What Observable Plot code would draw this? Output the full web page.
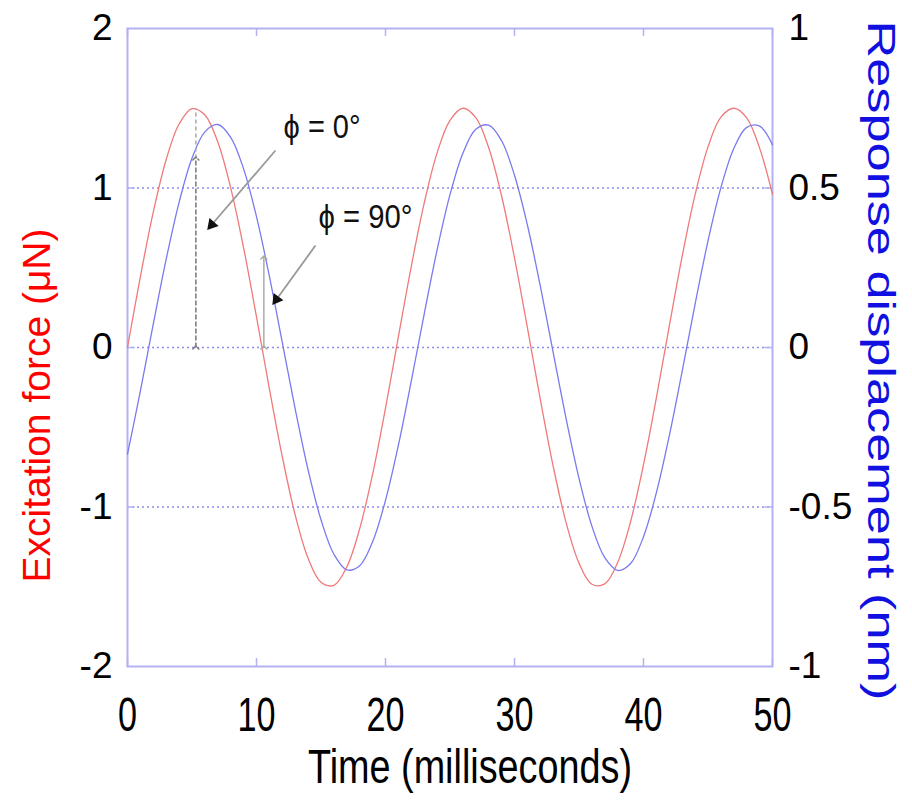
<!DOCTYPE html>
<html>
<head>
<meta charset="utf-8">
<script src="https://cdn.jsdelivr.net/npm/d3@7"></script>
<script src="https://cdn.jsdelivr.net/npm/@observablehq/plot@0.6"></script>
<style>
  html, body { margin: 0; padding: 0; background: #fff; }
</style>
</head>
<body>
<div id="chart"></div>
<script>
// ---- data ----
const timeMs = [0,1,2,3,4,5,6,7,8,9,10,11,12,13,14,15,16,17,18,19,20,21,22,23,24,25,26,27,28,29,30,31,32,33,34,35,36,37,38,39,40,41,42,43,44,45,46,47,48,49,50];
// Excitation force (μN), left axis
const force = [0,0.445,0.850,1.179,1.401,1.497,1.458,1.288,1.001,0.625,0.192,-0.259,-0.685,-1.050,-1.321,-1.472,-1.491,-1.376,-1.136,-0.794,-0.380,0.068,0.509,0.905,1.220,1.424,1.500,1.441,1.252,0.950,0.562,0.124,-0.325,-0.745,-1.098,-1.352,-1.484,-1.482,-1.347,-1.091,-0.735,-0.314,0.135,0.573,0.958,1.258,1.444,1.500,1.440,1.250,0.960];
// Response displacement (nm), right axis
const displacement = [-0.334,-0.136,0.074,0.277,0.455,0.593,0.676,0.699,0.659,0.560,0.410,0.223,0.016,-0.193,-0.384,-0.540,-0.648,-0.697,-0.684,-0.609,-0.479,-0.306,-0.105,0.105,0.306,0.479,0.609,0.684,0.697,0.648,0.540,0.384,0.193,-0.016,-0.223,-0.410,-0.560,-0.659,-0.699,-0.677,-0.593,-0.455,-0.277,-0.074,0.136,0.334,0.501,0.624,0.690,0.694,0.635];

const xTicks = [0,10,20,30,40,50];
const leftTicks = [-2,-1,0,1,2];
const rightTicks = [-1,-0.5,0,0.5,1];
const gridTicks = [-1,0,1];

const xTitle = "Time (milliseconds)";
const leftTitle = "Excitation force (\u03BCN)";
const rightTitle = "Response displacement (nm)";

// annotations (data units: ms, μN)
const phaseLabels = ["\u03D5 = 0\u00B0", "\u03D5 = 90\u00B0"];
const labelT = [12.1, 14.8];
const labelV = [1.38, 0.815];
const pointerFromT = [11.47, 14.57];
const pointerFromV = [1.235, 0.639];
const pointerToT = [6.28, 11.32];
const pointerToV = [0.746, 0.276];
const spanT = [5.3, 10.57];
const spanTopV = [1.185, 0.564];
const peakT = [5.3];
const peakV = [1.5];

// ---- layout ----
const W = 912, H = 804;
const mL = 127, mR = 140, mT = 28, mB = 138;
const pxPerT = (W - mL - mR) / 50;
const pxPerV = (H - mT - mB) / 4;

const rows = timeMs.map((t, i) => ({t, f: force[i], d: displacement[i]}));
const pointers = pointerFromT.map((t, i) => {
  const dxp = (pointerToT[i] - t) * pxPerT;
  const dyp = -(pointerToV[i] - pointerFromV[i]) * pxPerV;
  const len = Math.hypot(dxp, dyp);
  const ux = dxp / len, uy = dyp / len;
  return {
    x1: t, y1: pointerFromV[i], x2: pointerToT[i], y2: pointerToV[i],
    hx: pointerToT[i] - ux * 5 / pxPerT, hy: pointerToV[i] + uy * 5 / pxPerV,
    rot: Math.atan2(ux, -uy) * 180 / Math.PI
  };
});
const spans = spanT.map((t, i) => ({t, top: spanTopV[i]}));
const labels = phaseLabels.map((s, i) => ({s, t: labelT[i], v: labelV[i]}));

const frameColor = "#b2b2f2";

const plot = Plot.plot({
  width: W, height: H,
  marginLeft: mL, marginRight: mR, marginTop: mT, marginBottom: mB,
  x: {domain: [0, 50]},
  y: {domain: [-2, 2]},
  style: {fontFamily: "'Liberation Sans', Arial, sans-serif", background: "#fff", color: "#000"},
  marks: [
    Plot.gridY(gridTicks, {stroke: "#8c8cf0", strokeOpacity: 1, strokeWidth: 1.5, strokeDasharray: "2,3"}),
    Plot.frame({stroke: frameColor, strokeWidth: 2}),
    Plot.ruleX(xTicks, {y1: -2, y2: -1.95, stroke: frameColor, strokeWidth: 1.5}),
    Plot.ruleX(xTicks, {y1: 2, y2: 1.95, stroke: frameColor, strokeWidth: 1.5}),
    Plot.ruleY(gridTicks, {x1: 0, x2: 0.6, stroke: frameColor, strokeWidth: 1.5}),
    Plot.ruleY(gridTicks, {x1: 50, x2: 49.4, stroke: frameColor, strokeWidth: 1.5}),
    Plot.axisX(xTicks, {tickSize: 0, tickPadding: 30, fontSize: 48, label: null, tickFormat: d => String(d)}),
    Plot.axisY(leftTicks, {anchor: "left", tickSize: 0, tickPadding: 15, fontSize: 37, label: null, tickFormat: d => String(d)}),
    Plot.axisY(rightTicks.map(v => v * 2), {anchor: "right", tickSize: 0, tickPadding: 16, fontSize: 37, label: null, tickFormat: d => String(d / 2)}),
    Plot.line(rows, {x: "t", y: "f", stroke: "#ef7a7a", strokeWidth: 1.3, curve: "catmull-rom"}),
    Plot.line(rows, {x: "t", y: d => d.d * 2, stroke: "#7a7aef", strokeWidth: 1.3, curve: "catmull-rom"}),
    // dashed extension from red peak
    Plot.link(peakT, {x1: d => d, x2: d => d, y1: spanTopV[0], y2: (d, i) => peakV[i], stroke: "#aaa", strokeWidth: 1.5, strokeDasharray: "4,3"}),
    // double-headed span arrows
    Plot.link(spans.slice(0, 1), {x1: "t", x2: "t", y1: 0, y2: "top", stroke: "#777", strokeWidth: 1.5, strokeDasharray: "5,2", markerStart: "arrow", markerEnd: "arrow"}),
    Plot.link(spans.slice(1), {x1: "t", x2: "t", y1: 0, y2: "top", stroke: "#aaa", strokeWidth: 1.5, markerStart: "arrow", markerEnd: "arrow"}),
    // pointers
    Plot.link(pointers, {x1: "x1", y1: "y1", x2: "x2", y2: "y2", stroke: "#999", strokeWidth: 1.8}),
    Plot.dot(pointers, {x: "hx", y: "hy", symbol: "triangle", r: 4.5, fill: "#111", stroke: "none", rotate: "rot"}),
    Plot.text(labels, {x: "t", y: "v", text: "s", textAnchor: "start", fontSize: 34, fill: "#111"}),
    // axis titles
    Plot.text([xTitle], {frameAnchor: "bottom", text: d => d, dx: 20, dy: 116, fontSize: 48, fill: "#000"}),
    Plot.text([leftTitle], {frameAnchor: "left", text: d => d, dx: -90, dy: 58, rotate: -90, fontSize: 39, fill: "#ff0000"}),
    Plot.text([rightTitle], {frameAnchor: "right", text: d => d, dx: 108, dy: 13, rotate: 90, fontSize: 39, fill: "#1010e0"})
  ]
});

document.getElementById("chart").appendChild(plot);

// condensed / stretched text like the reference (start-anchored, centred by hand)
const lengths = new Map([
  [xTitle, 324], [leftTitle, 354], [rightTitle, 680]
]);
const startLengths = new Map([[phaseLabels[0], 77], [phaseLabels[1], 94]]);
d3.select(plot).selectAll("text").each(function() {
  const s = this.textContent;
  if (lengths.has(s)) {
    const L = lengths.get(s);
    this.setAttribute("text-anchor", "start");
    this.setAttribute("x", -L / 2);
    this.setAttribute("textLength", L);
    this.setAttribute("lengthAdjust", "spacingAndGlyphs");
  } else if (startLengths.has(s)) {
    this.setAttribute("textLength", startLengths.get(s));
    this.setAttribute("lengthAdjust", "spacingAndGlyphs");
  }
});
d3.select(plot).selectAll('g[aria-label="x-axis tick label"] text').each(function() {
  const L = this.textContent.length * 19;
  this.setAttribute("text-anchor", "start");
  this.setAttribute("x", -L / 2);
  this.setAttribute("textLength", L);
  this.setAttribute("lengthAdjust", "spacingAndGlyphs");
});
</script>
</body>
</html>
